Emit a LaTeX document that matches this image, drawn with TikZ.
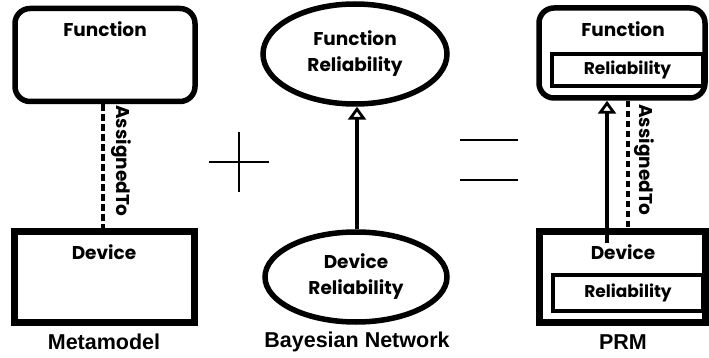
\documentclass[tikz,border=0pt]{standalone}
\usepackage{fontspec}
\setmainfont{Liberation Sans}
\newfontfamily\geo{Poppins}
\usetikzlibrary{arrows.meta,shapes.geometric}
\begin{document}
\begin{tikzpicture}[x=1pt,y=-1pt,
  lbl/.style={font=\geo\bfseries\fontsize{18.5}{19}\selectfont, inner sep=0pt, align=center},
  captext/.style={font=\bfseries\fontsize{21.5}{24}\selectfont, inner sep=0pt},
  funbox/.style={draw, line width=5.5pt, rounded corners=15pt, minimum width=180pt, minimum height=93pt, inner sep=0pt},
  devbox/.style={draw, line width=7pt, minimum width=180pt, minimum height=91pt, inner sep=0pt},
  relbox/.style={draw, line width=3.2pt, minimum width=150pt, inner sep=0pt, font=\geo\bfseries\fontsize{17}{18}\selectfont},
  bnode/.style={draw, ellipse, line width=5.5pt, inner sep=0pt, align=center, font=\geo\bfseries\fontsize{18.5}{26}\selectfont},
  assoc/.style={line width=4.2pt, dash pattern=on 6.5pt off 3.5pt},
  rel/.style={line width=3.2pt, -{Triangle[open, length=13pt, width=18pt, line width=2.8pt]}},
  sym/.style={line width=1.7pt}
]
\useasboundingbox (0,0) rectangle (709,358);
% Metamodel
\node[funbox] (f1) at (105,55) {};
\node[lbl] (f1t) at (105,29) {Function};
\node[devbox] (d1) at (104,276.5) {};
\node[lbl] (d1t) at (104,252) {Device};
\draw[assoc] (f1.south -| 103,0) -- (d1.north -| 103,0);
\node[lbl, rotate=-90] (a1) at (121,161) {AssignedTo};
\node[captext] (m1) at (104,342) {Metamodel};
% plus
\coordinate (pc) at (239,162);
\draw[sym] ([xshift=-30pt]pc) -- ([xshift=30pt]pc);
\draw[sym] ([yshift=-30pt]pc) -- ([yshift=30pt]pc);
% Bayesian network
\node[bnode, minimum width=184pt, minimum height=100pt] (fr) at (355,54) {Function\\Reliability};
\node[bnode, minimum width=182pt, minimum height=90pt] (dr) at (356,277) {Device\\Reliability};
\draw[rel] (dr.north -| 357,0) -- (fr.south -| 357,0);
\node[captext] (bn) at (357,342) {Bayesian Network};
% equals
\coordinate (eq1) at (460,140);
\coordinate (eq2) at (518,140);
\coordinate (eq3) at (460,180);
\coordinate (eq4) at (518,180);
\draw[sym] (eq1) -- (eq2);
\draw[sym] (eq3) -- (eq4);
% PRM
\node[funbox, minimum width=166pt, minimum height=90pt] (f2) at (622,53) {};
\node[lbl] (f2t) at (623,29) {Function};
\node[relbox, minimum width=151pt, minimum height=32pt] (r2) at (627.5,70) {Reliability};
\node[devbox, minimum width=166pt] (d2) at (622,276.5) {};
\node[lbl] (d2t) at (623,252) {Device};
\node[relbox, minimum width=150pt, minimum height=36pt] (r3) at (628,293) {Reliability};
\coordinate (s2) at (607,243);
\draw[rel] (s2) -- (f2.south -| s2);
\draw[assoc] (f2.south -| 628,0) -- (d2.north -| 628,0);
\node[lbl, rotate=-90] (a2) at (644,160) {AssignedTo};
\node[captext] (p2) at (623,342) {PRM};
\end{tikzpicture}
\end{document}
